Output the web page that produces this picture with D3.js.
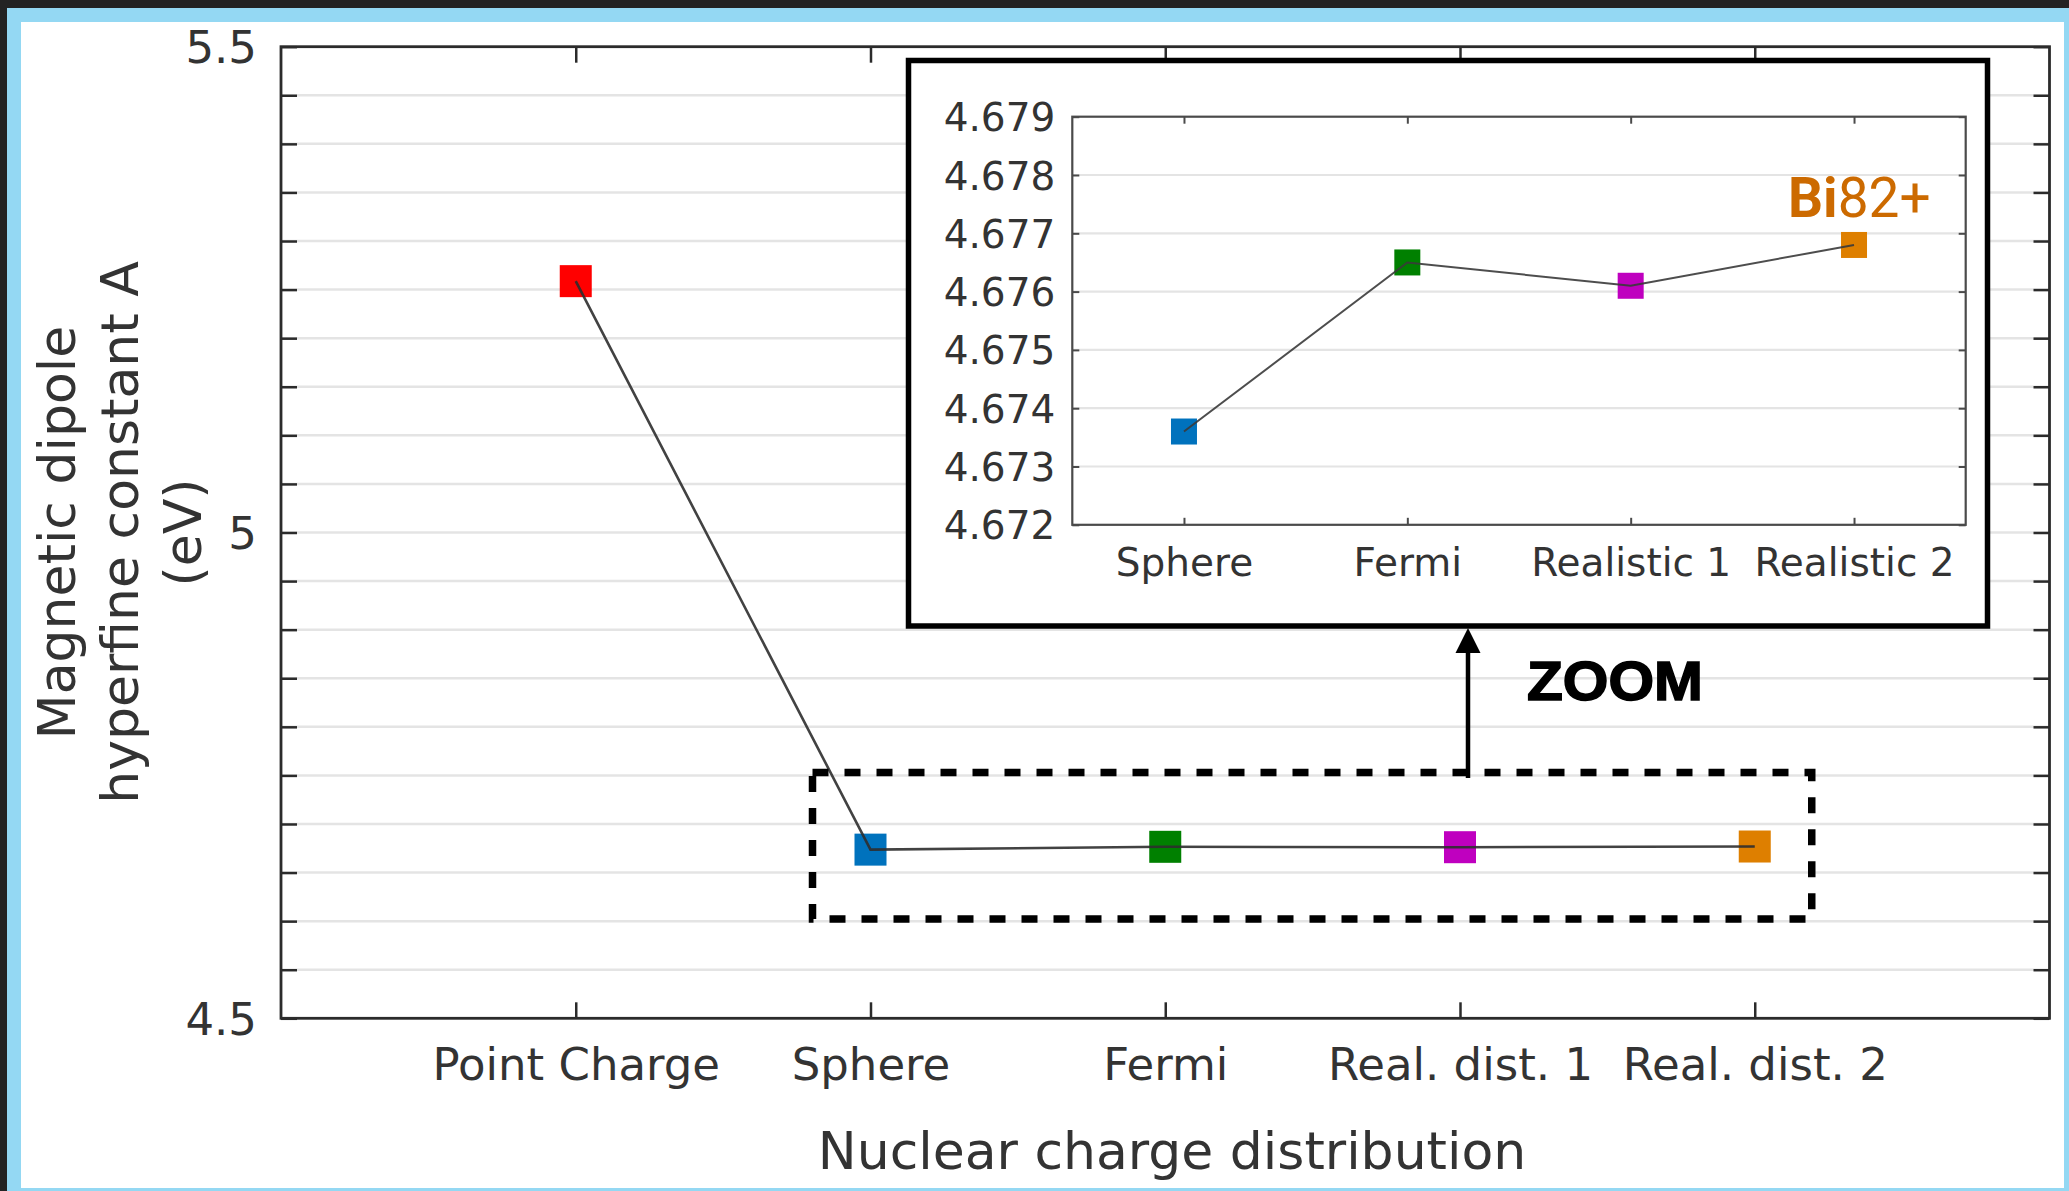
<!DOCTYPE html>
<html>
<head>
<meta charset="utf-8">
<script src="https://cdn.jsdelivr.net/npm/d3@7"></script>
<style>
  html, body { margin: 0; padding: 0; background: #232323; }
  svg { display: block; }
</style>
</head>
<body>
<div id="chart"></div>
<script>
// Magnetic dipole hyperfine constant A of Bi82+ for different nuclear charge models
const categories = ["Point Charge", "Sphere", "Fermi", "Real. dist. 1", "Real. dist. 2"];
const hyperfineA = [5.2587, 4.6736, 4.6765, 4.6761, 4.6768];
const markerColors = ["#ff0000", "#0072bd", "#008000", "#bf00bf", "#de7f00"];
const yTickLabels = [4.5, 5, 5.5];
const yMinorStep = 0.05;

// zoomed inset (finite-size models only)
const insetCategories = ["Sphere", "Fermi", "Realistic 1", "Realistic 2"];
const insetValues = hyperfineA.slice(1);
const insetColors = markerColors.slice(1);
const insetTickLabels = [4.672, 4.673, 4.674, 4.675, 4.676, 4.677, 4.678, 4.679];

const W = 2069, H = 1191;
const textColor = "#333333";
const axisColor = "#2b2b2b";
const gridColor = "#e4e4e4";
const font = "'DejaVu Sans', sans-serif";

const svg = d3.select("#chart").append("svg")
  .attr("width", W).attr("height", H)
  .attr("viewBox", `0 0 ${W} ${H}`);

// page frame
svg.append("rect").attr("width", W).attr("height", H).attr("fill", "#232323");
svg.append("rect").attr("x", 7).attr("y", 8).attr("width", W - 7).attr("height", H - 8).attr("fill", "#94d8f3");
svg.append("rect").attr("x", 21).attr("y", 22).attr("width", 2043).attr("height", 1166).attr("fill", "#ffffff");

// ---------- main panel ----------
const m = { left: 281, right: 2049.5, top: 46.7, bottom: 1018.3 };
const x = d3.scalePoint().domain(categories).range([m.left, m.right]).padding(1);
const y = d3.scaleLinear().domain([4.5, 5.5]).range([m.bottom, m.top]);
const yMinor = d3.range(Math.round((5.5 - 4.5) / yMinorStep) + 1).map(i => +(4.5 + i * yMinorStep).toFixed(2));

const main = svg.append("g");

// horizontal grid
main.append("g").selectAll("line")
  .data(yMinor.slice(1, -1))
  .join("line")
  .attr("x1", m.left).attr("x2", m.right)
  .attr("y1", d => y(d)).attr("y2", d => y(d))
  .attr("stroke", gridColor).attr("stroke-width", 2.5);

const fmtMain = d => yTickLabels.some(t => Math.abs(t - d) < 1e-9) ? d3.format("~g")(d) : "";

function styleAxis(g, size) {
  g.select(".domain").remove();
  g.selectAll(".tick line").attr("stroke", axisColor).attr("stroke-width", 2.5);
  g.selectAll(".tick text").attr("fill", textColor).attr("font-family", font).attr("font-size", size);
}

main.append("g").attr("transform", `translate(${m.left},0)`)
  .call(d3.axisLeft(y).tickValues(yMinor).tickSize(-16).tickPadding(24).tickFormat(fmtMain))
  .call(g => styleAxis(g, 45))
  .call(g => g.selectAll(".tick text").attr("dy", "0.35em"));
main.append("g").attr("transform", `translate(${m.right},0)`)
  .call(d3.axisRight(y).tickValues(yMinor).tickSize(-16).tickFormat(""))
  .call(g => styleAxis(g, 45));
main.append("g").attr("transform", `translate(0,${m.bottom})`)
  .call(d3.axisBottom(x).tickSize(-16).tickPadding(30))
  .call(g => styleAxis(g, 45));
main.append("g").attr("transform", `translate(0,${m.top})`)
  .call(d3.axisTop(x).tickSize(-16).tickFormat(""))
  .call(g => styleAxis(g, 45));

main.append("rect")
  .attr("x", m.left).attr("y", m.top)
  .attr("width", m.right - m.left).attr("height", m.bottom - m.top)
  .attr("fill", "none").attr("stroke", axisColor).attr("stroke-width", 2.8);

// axis titles
main.append("text")
  .attr("x", 1172).attr("y", 1169)
  .attr("text-anchor", "middle")
  .attr("font-family", font).attr("font-size", 52).attr("fill", textColor)
  .text("Nuclear charge distribution");

const yTitle = main.append("text")
  .attr("transform", `translate(0,${(m.top + m.bottom) / 2}) rotate(-90)`)
  .attr("text-anchor", "middle")
  .attr("font-family", font).attr("font-size", 52).attr("fill", textColor);
["Magnetic dipole", "hyperfine constant A", "(eV)"].forEach((t, i) => {
  yTitle.append("tspan").attr("x", 0).attr("y", 74.5 + i * 63.2).text(t);
});

// data markers and connecting line
const mainData = categories.map((c, i) => ({ c, v: hyperfineA[i], col: markerColors[i] }));
const ms = 32;
main.append("g").selectAll("rect")
  .data(mainData)
  .join("rect")
  .attr("x", d => x(d.c) - ms / 2).attr("y", d => y(d.v) - ms / 2)
  .attr("width", ms).attr("height", ms)
  .attr("fill", d => d.col);
main.append("path")
  .datum(mainData)
  .attr("d", d3.line().x(d => x(d.c)).y(d => y(d.v)))
  .attr("fill", "none").attr("stroke", "#2e2e2e").attr("stroke-width", 2.6)
  .attr("stroke-opacity", 0.9);

// dashed selection box around the finite-size models
const boxL = x(categories[1]) - 58, boxR = x(categories[4]) + 57;
const boxT = 772.5, boxB = 919;
main.append("rect")
  .attr("x", boxL).attr("y", boxT)
  .attr("width", boxR - boxL).attr("height", boxB - boxT)
  .attr("fill", "none").attr("stroke", "#000").attr("stroke-width", 7.5)
  .attr("stroke-dasharray", "16 16");

// arrow and label
const arrowX = 1468;
main.append("line")
  .attr("x1", arrowX).attr("x2", arrowX).attr("y1", 778).attr("y2", 648)
  .attr("stroke", "#000").attr("stroke-width", 4.5);
main.append("path")
  .attr("d", `M${arrowX},628 L${arrowX - 12.5},653 L${arrowX + 12.5},653 Z`)
  .attr("fill", "#000");
main.append("text")
  .attr("x", 1527).attr("y", 700)
  .attr("font-family", "'Liberation Sans', Arial, sans-serif")
  .attr("font-weight", "bold").attr("font-size", 55)
  .attr("textLength", 176).attr("lengthAdjust", "spacingAndGlyphs")
  .attr("fill", "#000").attr("stroke", "#000").attr("stroke-width", 1.6)
  .text("ZOOM");

// ---------- inset ----------
const inset = svg.append("g");
inset.append("rect")
  .attr("x", 908.5).attr("y", 60.5).attr("width", 1079).attr("height", 565.5)
  .attr("fill", "#ffffff").attr("stroke", "#000").attr("stroke-width", 5.5);

const im = { left: 1072.3, right: 1965.7, top: 116.7, bottom: 524.8 };
const xi = d3.scalePoint().domain(insetCategories).range([im.left, im.right]).padding(0.5);
const yi = d3.scaleLinear().domain([4.672, 4.679]).range([im.bottom, im.top]);

inset.append("g").selectAll("line")
  .data(insetTickLabels.slice(1, -1))
  .join("line")
  .attr("x1", im.left).attr("x2", im.right)
  .attr("y1", d => yi(d)).attr("y2", d => yi(d))
  .attr("stroke", gridColor).attr("stroke-width", 2.2);

function styleInset(g) {
  g.select(".domain").remove();
  g.selectAll(".tick line").attr("stroke", "#4a4a4a").attr("stroke-width", 2);
  g.selectAll(".tick text").attr("fill", textColor).attr("font-family", font).attr("font-size", 39);
}
inset.append("g").attr("transform", `translate(${im.left},0)`)
  .call(d3.axisLeft(yi).tickValues(insetTickLabels).tickSize(-7).tickPadding(17).tickFormat(d3.format(".3f")))
  .call(styleInset)
  .call(g => g.selectAll(".tick text").attr("dy", "0.36em"));
inset.append("g").attr("transform", `translate(${im.right},0)`)
  .call(d3.axisRight(yi).tickValues(insetTickLabels).tickSize(-7).tickFormat(""))
  .call(styleInset);
inset.append("g").attr("transform", `translate(0,${im.bottom})`)
  .call(d3.axisBottom(xi).tickSize(-7).tickPadding(24))
  .call(styleInset);
inset.append("g").attr("transform", `translate(0,${im.top})`)
  .call(d3.axisTop(xi).tickSize(-7).tickFormat(""))
  .call(styleInset);
inset.append("rect")
  .attr("x", im.left).attr("y", im.top)
  .attr("width", im.right - im.left).attr("height", im.bottom - im.top)
  .attr("fill", "none").attr("stroke", "#4a4a4a").attr("stroke-width", 2.2);

const insetData = insetCategories.map((c, i) => ({ c, v: insetValues[i], col: insetColors[i] }));
const ims = 26;
inset.append("g").selectAll("rect")
  .data(insetData)
  .join("rect")
  .attr("x", d => xi(d.c) - ims / 2).attr("y", d => yi(d.v) - ims / 2)
  .attr("width", ims).attr("height", ims)
  .attr("fill", d => d.col);
inset.append("path")
  .datum(insetData)
  .attr("d", d3.line().x(d => xi(d.c)).y(d => yi(d.v)))
  .attr("fill", "none").attr("stroke", "#3a3a3a").attr("stroke-width", 2)
  .attr("stroke-opacity", 0.9);

// ion label
const ion = inset.append("text")
  .attr("x", 1788).attr("y", 217)
  .attr("font-family", "Roboto, 'Open Sans', sans-serif")
  .attr("font-size", 55).attr("fill", "#cc6a00");
ion.append("tspan").attr("font-weight", "bold").text("Bi");
ion.append("tspan").attr("font-weight", "normal").text("82+");
</script>
</body>
</html>
